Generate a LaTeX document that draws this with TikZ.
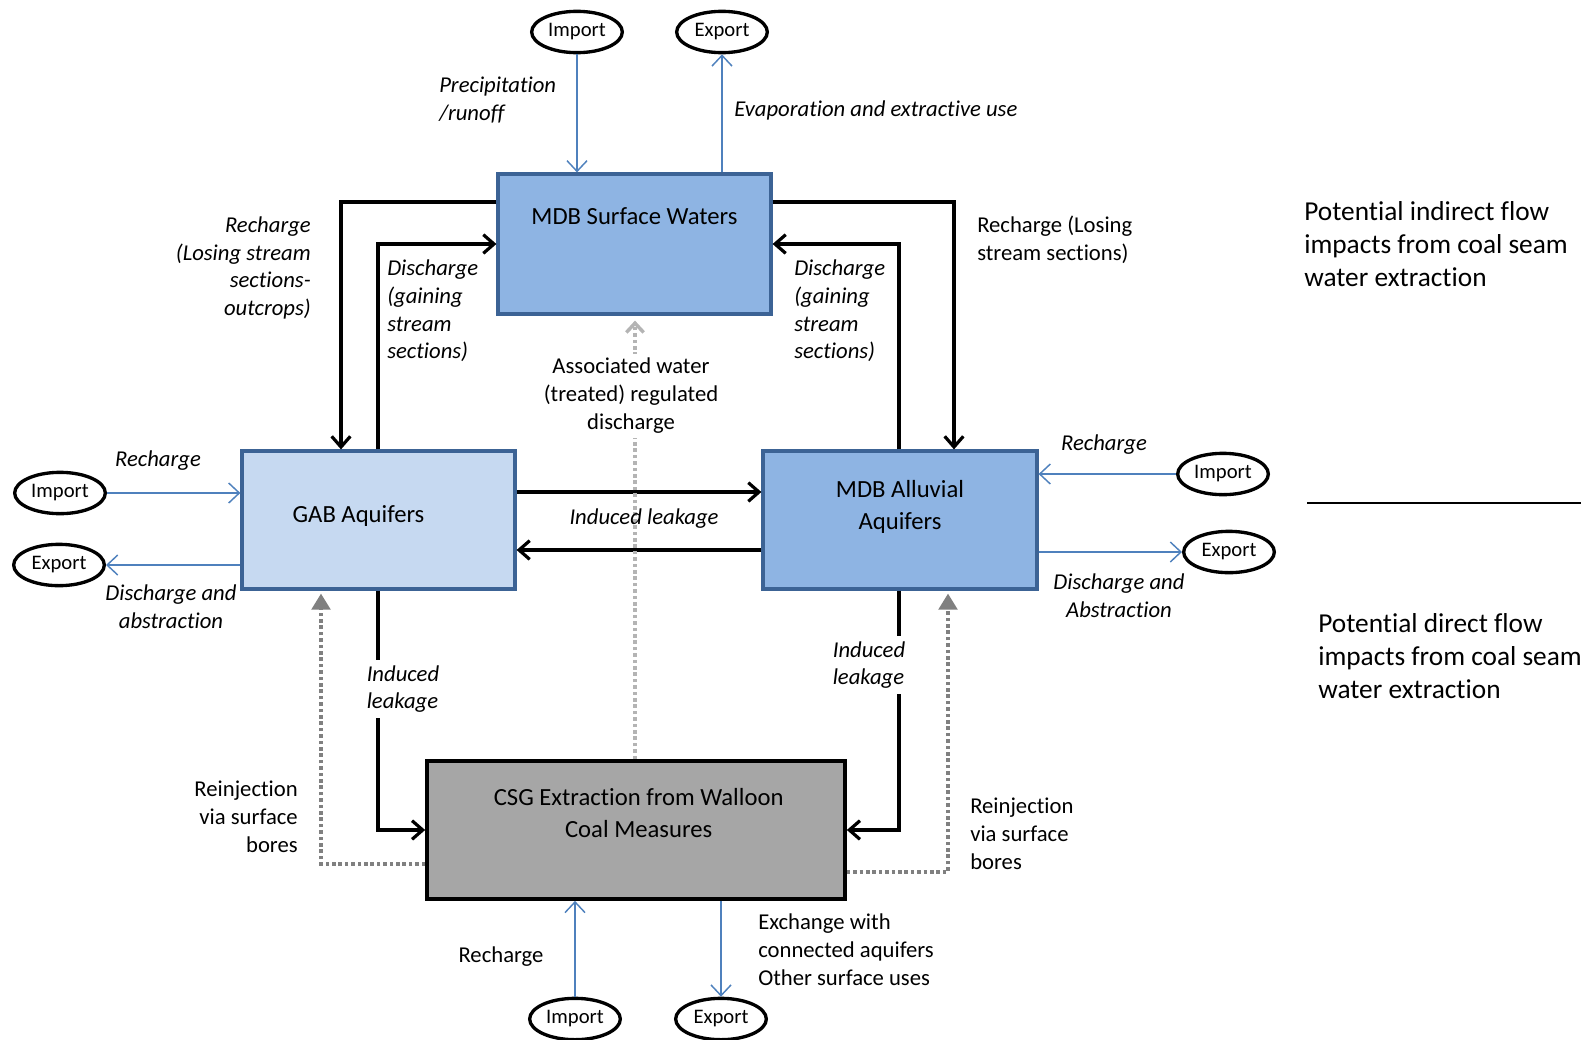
\documentclass[tikz,border=0pt]{standalone}
\usepackage{fontspec}
\setmainfont{Carlito}[Ligatures=NoCommon]
\usetikzlibrary{arrows.meta}
\usetikzlibrary{shapes.geometric}
\usetikzlibrary{calc}

\definecolor{surfblue}{HTML}{8EB4E3}
\definecolor{gablight}{HTML}{C6D9F1}
\definecolor{edgeblue}{HTML}{3C6395}
\definecolor{portblue}{HTML}{4F81BD}
\definecolor{csggrey}{HTML}{A6A6A6}
\definecolor{dotgrey}{HTML}{808080}
\definecolor{dotlight}{HTML}{B4B4B4}

\tikzset{
  store/.style={draw=edgeblue, line width=2.4pt, inner sep=0pt},
  storetext/.style={font=\fontsize{18.5}{23.5}\selectfont, align=center},
  port/.style={ellipse, draw, line width=2.5pt, minimum width=68pt, minimum height=31pt,
    inner sep=0pt, font=\fontsize{15.5}{18}\selectfont},
  flow/.style={line width=2.4pt, -{Straight Barb[length=8pt,width=14pt]}},
  portflow/.style={portblue, line width=1.1pt, -{Straight Barb[length=8pt,width=15pt]}},
  reinj/.style={dotgrey, line width=2.4pt, dash pattern=on 2.6pt off 2.2pt,
    -{Triangle[length=12pt,width=14pt]}},
  assocflow/.style={dotlight, line width=2.6pt, dash pattern=on 2.6pt off 2.2pt,
    -{Straight Barb[length=7pt,width=13pt]}},
  note/.style={font=\fontsize{17}{20.8}\selectfont\itshape, inner sep=0pt},
  plainnote/.style={font=\fontsize{17}{21}\selectfont, inner sep=0pt},
  bignote/.style={font=\fontsize{20.5}{24.8}\selectfont, inner sep=0pt, align=left}
}

\begin{document}
\begin{tikzpicture}[x=0.75pt,y=-0.75pt]
  \useasboundingbox (0,0) rectangle (1581,1039);

  % stores
  \node[store, fill=surfblue, minimum width=204.75pt, minimum height=105pt,
    label={[storetext, anchor=center, yshift=21pt]center:MDB Surface Waters}] (surf) at (634.5,244) {};
  \node[store, fill=gablight, minimum width=204.75pt, minimum height=103.5pt,
    label={[storetext, anchor=center, xshift=-15pt, yshift=3pt]center:GAB Aquifers}] (gab) at (378.5,520) {};
  \node[store, fill=surfblue, minimum width=205.5pt, minimum height=103.5pt,
    label={[storetext, anchor=center, yshift=9.75pt]center:MDB Alluvial\\Aquifers}] (alluv) at (900,520) {};
  \node[store, draw=black, line width=2.8pt, fill=csggrey, minimum width=313.5pt, minimum height=103.5pt,
    label={[storetext, anchor=center, xshift=2pt, yshift=12.75pt]center:CSG Extraction from Walloon\\Coal Measures}] (csg) at (636,830) {};

  % imports and exports
  \node[port] (imptop) at (577,32) {Import};
  \node[port] (exptop) at (722,32) {Export};
  \node[port] (impleft) at (60,493) {Import};
  \node[port] (expleft) at (59,565) {Export};
  \node[port] (impright) at (1223,474) {Import};
  \node[port] (expright) at (1229,552) {Export};
  \node[port] (impbot) at (575,1019) {Import};
  \node[port] (expbot) at (721,1019) {Export};

  \draw[portflow] (imptop) -- (imptop |- surf.north);
  \draw[portflow] (exptop |- surf.north) -- (exptop);
  \draw[portflow] (impleft) -- (impleft -| gab.west);
  \draw[portflow] (gab.west |- expleft) -- (expleft);
  \draw[portflow] (impright) -- (impright -| alluv.east);
  \draw[portflow] (alluv.east |- expright) -- (expright);
  \draw[portflow] (impbot) -- (impbot |- csg.south);
  \draw[portflow] (expbot |- csg.south) -- (expbot);

  % exchanges between stores
  \draw[flow] (surf.west |- 0,202) -| (gab.north -| 341,0);
  \draw[flow] (gab.north -| 378,0) |- (surf.west |- 0,244);
  \draw[flow] (surf.east |- 0,202) -| (alluv.north -| 954,0);
  \draw[flow] (alluv.north -| 899,0) |- (surf.east |- 0,244);
  \draw[flow] (gab.east |- 0,492) -- (alluv.west |- 0,492);
  \draw[flow] (alluv.west |- 0,550) -- (gab.east |- 0,550);
  \draw[flow] (gab.south -| 378,0) |- (csg.west |- 0,830);
  \draw[flow] (alluv.south -| 899,0) |- (csg.east |- 0,830);

  % reinjection and associated water
  \draw[reinj] (csg.west |- 0,864) -| ($(gab.south -| 321,0)+(0,3)$);
  \draw[reinj] (csg.east |- 0,872) -| ($(alluv.south -| 948,0)+(0,3)$);
  \draw[assocflow] (csg.north -| 635,0) -- ($(surf.south -| 635,0)+(0,5)$);

  % labels
  \node[note, anchor=west, align=left] (prec) at (439,100) {Precipitation\\/runoff};
  \node[note, anchor=west] (evap) at (734,110) {Evaporation and extractive use};
  \node[note, anchor=east, align=right] (rechsurfl) at (311,268) {Recharge\\(Losing stream\\sections-\\outcrops)};
  \node[note, anchor=west, align=left] (discsurfl) at (387,311) {Discharge\\(gaining\\stream\\sections)};
  \node[note, anchor=west, align=left] (discsurfr) at (794,311) {Discharge\\(gaining\\stream\\sections)};
  \node[plainnote, anchor=west, align=left] (rechsurfr) at (977,240) {Recharge (Losing\\stream sections)};
  \node[plainnote, fill=white, inner sep=3pt, align=center] (assoc) at (631,396) {Associated water\\(treated) regulated\\discharge};
  \node[note] (leakmid) at (644,519) {Induced leakage};
  \node[note] (rechgab) at (158,461) {Recharge};
  \node[note, align=center] (discgab) at (171,607) {Discharge and\\abstraction};
  \node[note] (rechall) at (1104,445) {Recharge};
  \node[note, align=center] (discall) at (1119,596) {Discharge and\\Abstraction};
  \node[note, fill=white, inner sep=4pt, align=left] (leakl) at (403,689) {Induced\\leakage};
  \node[note, fill=white, inner sep=4pt, align=left] (leakr) at (869,665) {Induced\\leakage};
  \node[plainnote, anchor=east, align=right] (reinjl) at (298,817) {Reinjection\\via surface\\bores};
  \node[plainnote, anchor=west, align=left] (reinjr) at (970,834) {Reinjection\\via surface\\bores};
  \node[plainnote] (rechcsg) at (501,957) {Recharge};
  \node[plainnote, anchor=west, align=left] (exch) at (758,950) {Exchange with\\connected aquifers\\Other surface uses};

  % side notes
  \node[bignote, anchor=west] (indirect) at (1304,244) {Potential indirect flow\\impacts from coal seam\\water extraction};
  \draw[line width=2.2pt] (1307,503) -- (1581,503);
  \node[bignote, anchor=west] (direct) at (1318,656) {Potential direct flow\\impacts from coal seam\\water extraction};
\end{tikzpicture}
\end{document}
